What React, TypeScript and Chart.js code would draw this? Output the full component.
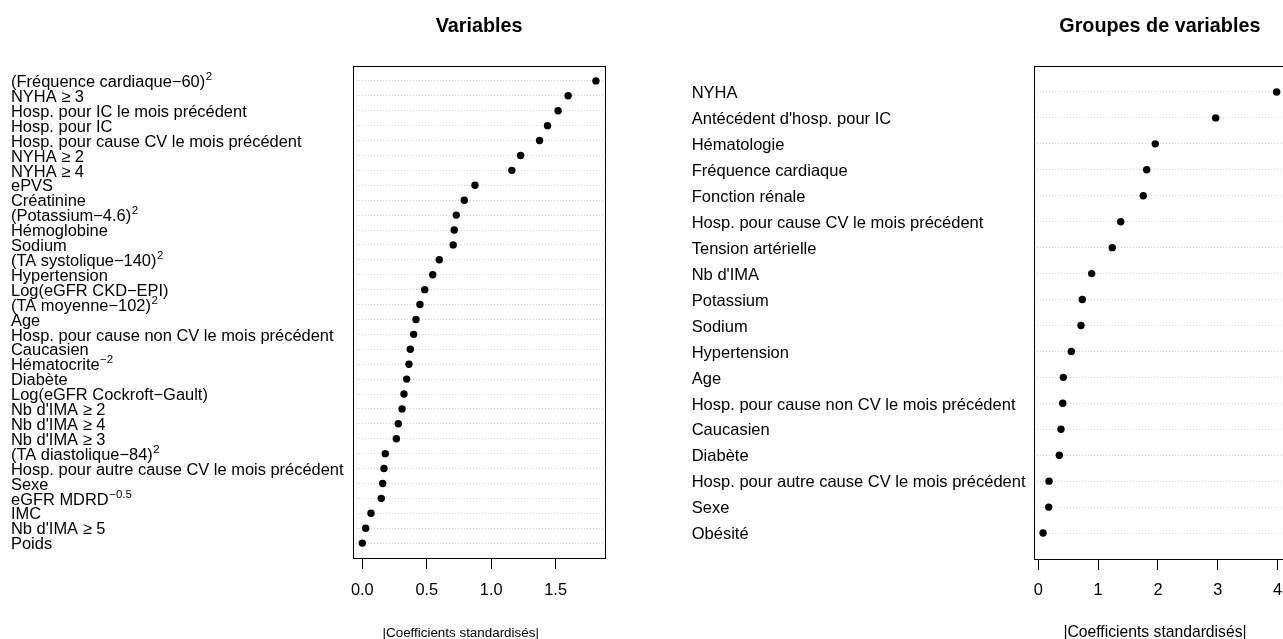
import React, { useEffect, useRef } from "react";
import { Chart, registerables } from "chart.js";

Chart.register(...registerables);

// ---------- DATA ----------
const leftLabels = [
  "(Fréquence cardiaque−60)^2",
  "NYHA ≥ 3",
  "Hosp. pour IC le mois précédent",
  "Hosp. pour IC",
  "Hosp. pour cause CV le mois précédent",
  "NYHA ≥ 2",
  "NYHA ≥ 4",
  "ePVS",
  "Créatinine",
  "(Potassium−4.6)^2",
  "Hémoglobine",
  "Sodium",
  "(TA systolique−140)^2",
  "Hypertension",
  "Log(eGFR CKD−EPI)",
  "(TA moyenne−102)^2",
  "Age",
  "Hosp. pour cause non CV le mois précédent",
  "Caucasien",
  "Hématocrite^−2",
  "Diabète",
  "Log(eGFR Cockroft−Gault)",
  "Nb d'IMA ≥ 2",
  "Nb d'IMA ≥ 4",
  "Nb d'IMA ≥ 3",
  "(TA diastolique−84)^2",
  "Hosp. pour autre cause CV le mois précédent",
  "Sexe",
  "eGFR MDRD^−0.5",
  "IMC",
  "Nb d'IMA ≥ 5",
  "Poids",
];
const leftValues = [
  1.812, 1.597, 1.519, 1.437, 1.375, 1.228, 1.16, 0.874, 0.791, 0.729, 0.713,
  0.705, 0.597, 0.546, 0.484, 0.447, 0.416, 0.398, 0.372, 0.362, 0.344, 0.323,
  0.308, 0.279, 0.264, 0.178, 0.168, 0.158, 0.147, 0.067, 0.026, 0.0,
];
const leftTicks = [0, 0.5, 1.0, 1.5];

const rightLabels = [
  "NYHA",
  "Antécédent d'hosp. pour IC",
  "Hématologie",
  "Fréquence cardiaque",
  "Fonction rénale",
  "Hosp. pour cause CV le mois précédent",
  "Tension artérielle",
  "Nb d'IMA",
  "Potassium",
  "Sodium",
  "Hypertension",
  "Age",
  "Hosp. pour cause non CV le mois précédent",
  "Caucasien",
  "Diabète",
  "Hosp. pour autre cause CV le mois précédent",
  "Sexe",
  "Obésité",
];
const rightValues = [
  3.983, 2.964, 1.955, 1.811, 1.754, 1.377, 1.236, 0.892, 0.735, 0.713, 0.551,
  0.418, 0.408, 0.379, 0.351, 0.179, 0.174, 0.079,
];
const rightTicks = [0, 1, 2, 3, 4];

const leftTitle = "Variables";
const rightTitle = "Groupes de variables";
const xAxisTitle = "|Coefficients standardisés|";

// ---------- STYLE ----------
const FONT = "'Liberation Sans', Arial, Helvetica, sans-serif";
const H = 639;

type PanelCfg = {
  labels: string[];
  values: number[];
  ticks: number[];
  decimals: number;
  title: string;
  left: number;
  width: number;
  areaLeft: number;
  areaRight: number;
  areaBottom: number;
  labelX: number;
  labelSize: number;
  xlabShift: number;
  xlabSize: number;
  tickPad: number;
};

function drawLabel(
  ctx: CanvasRenderingContext2D,
  text: string,
  x: number,
  y: number,
  size: number
) {
  const parts = text.split("^");
  ctx.font = `${size}px ${FONT}`;
  ctx.textAlign = "left";
  ctx.textBaseline = "alphabetic";
  ctx.fillText(parts[0], x, y);
  if (parts.length > 1) {
    const w = ctx.measureText(parts[0]).width;
    ctx.font = `${(size * 0.7).toFixed(2)}px ${FONT}`;
    ctx.fillText(parts[1], x + w + 0.5, y - 7);
  }
}

function Panel({ cfg }: { cfg: PanelCfg }) {
  const ref = useRef<HTMLCanvasElement>(null);
  useEffect(() => {
    const n = cfg.labels.length;
    const lo = Math.min(...cfg.values);
    const hi = Math.max(...cfg.values);
    const pad = 0.04 * (hi - lo);
    const rows = cfg.labels.map((_, i) => n - i);

    const panelPlugin = {
      id: "panelDecor",
      afterDraw(chart: any) {
        const { ctx, chartArea } = chart;
        const ys = chart.scales.y;
        ctx.save();
        ctx.strokeStyle = "#000";
        ctx.lineWidth = 1;
        ctx.strokeRect(
          Math.round(chartArea.left) + 0.5,
          Math.round(chartArea.top) + 0.5,
          Math.round(chartArea.right) - Math.round(chartArea.left),
          Math.round(chartArea.bottom) - Math.round(chartArea.top)
        );
        ctx.fillStyle = "#000";
        cfg.labels.forEach((lab, i) => {
          drawLabel(ctx, lab, cfg.labelX, ys.getPixelForValue(rows[i]) + 6.2, cfg.labelSize);
        });
        ctx.font = `${cfg.xlabSize}px ${FONT}`;
        ctx.textAlign = "center";
        ctx.textBaseline = "alphabetic";
        ctx.fillText(
          xAxisTitle,
          (chartArea.left + chartArea.right) / 2 + cfg.xlabShift,
          637
        );
        ctx.restore();
      },
    };

    const chart = new Chart(ref.current!, {
      type: "scatter",
      data: {
        datasets: [
          {
            data: cfg.values.map((v, i) => ({ x: v, y: rows[i] })),
            pointRadius: 3.7,
            pointHoverRadius: 3.7,
            pointBackgroundColor: "#000",
            pointBorderWidth: 0,
            showLine: false,
          },
        ],
      },
      options: {
        animation: false,
        responsive: false,
        events: [],
        layout: {
          padding: { left: 0, top: 0, bottom: 0, right: cfg.width - cfg.areaRight },
        },
        plugins: {
          legend: { display: false },
          tooltip: { enabled: false },
          title: {
            display: true,
            text: cfg.title,
            fullSize: false,
            color: "#000",
            font: { family: FONT, size: 19.8, weight: "bold", lineHeight: 1.2 },
            padding: { top: 14.2, bottom: 66 - 14.2 - 23.76 },
          },
        },
        scales: {
          x: {
            type: "linear",
            position: "bottom",
            min: lo - pad,
            max: hi + pad,
            afterBuildTicks: (s: any) => {
              s.ticks = cfg.ticks.map((v) => ({ value: v }));
            },
            afterFit: (s: any) => {
              s.height = H - cfg.areaBottom;
            },
            grid: {
              display: true,
              drawOnChartArea: false,
              drawTicks: true,
              tickLength: 11,
              color: "#000",
              tickColor: "#000",
              tickWidth: 1,
            },
            border: { display: false },
            ticks: {
              autoSkip: false,
              maxRotation: 0,
              padding: cfg.tickPad,
              color: "#000",
              font: { family: FONT, size: 16.4, lineHeight: 1.2 },
              callback: (v: any) => Number(v).toFixed(cfg.decimals),
            },
          },
          y: {
            type: "linear",
            position: "left",
            min: 0,
            max: n + 1,
            afterBuildTicks: (s: any) => {
              s.ticks = rows.map((v) => ({ value: v }));
            },
            afterFit: (s: any) => {
              s.width = cfg.areaLeft;
            },
            grid: {
              display: true,
              drawTicks: false,
              color: "#d3d3d3",
              lineWidth: 1,
            },
            border: { display: false, dash: [1, 2] },
            ticks: { display: false },
          },
        },
      } as any,
      plugins: [panelPlugin],
    });
    return () => chart.destroy();
  }, [cfg]);

  return (
    <canvas
      ref={ref}
      width={cfg.width}
      height={H}
      style={{ position: "absolute", left: cfg.left, top: 0, width: cfg.width, height: H }}
    />
  );
}

const leftCfg: PanelCfg = {
  labels: leftLabels,
  values: leftValues,
  ticks: leftTicks,
  decimals: 1,
  title: leftTitle,
  left: 0,
  width: 641,
  areaLeft: 353,
  areaRight: 605.2,
  areaBottom: 558,
  labelX: 11,
  labelSize: 16.45,
  xlabShift: -18.4,
  xlabSize: 13.4,
  tickPad: 11.3,
};

const rightCfg: PanelCfg = {
  labels: rightLabels,
  values: rightValues,
  ticks: rightTicks,
  decimals: 0,
  title: rightTitle,
  left: 641,
  width: 660,
  areaLeft: 392.7,
  areaRight: 645,
  areaBottom: 559,
  labelX: 50.7,
  labelSize: 16.5,
  xlabShift: -4.85,
  xlabSize: 15.7,
  tickPad: 10.3,
};

export default function App() {
  return (
    <div
      style={{
        position: "absolute",
        left: 0,
        top: 0,
        width: 1283,
        height: H,
        overflow: "hidden",
        background: "#fff",
      }}
    >
      <Panel cfg={leftCfg} />
      <Panel cfg={rightCfg} />
    </div>
  );
}
